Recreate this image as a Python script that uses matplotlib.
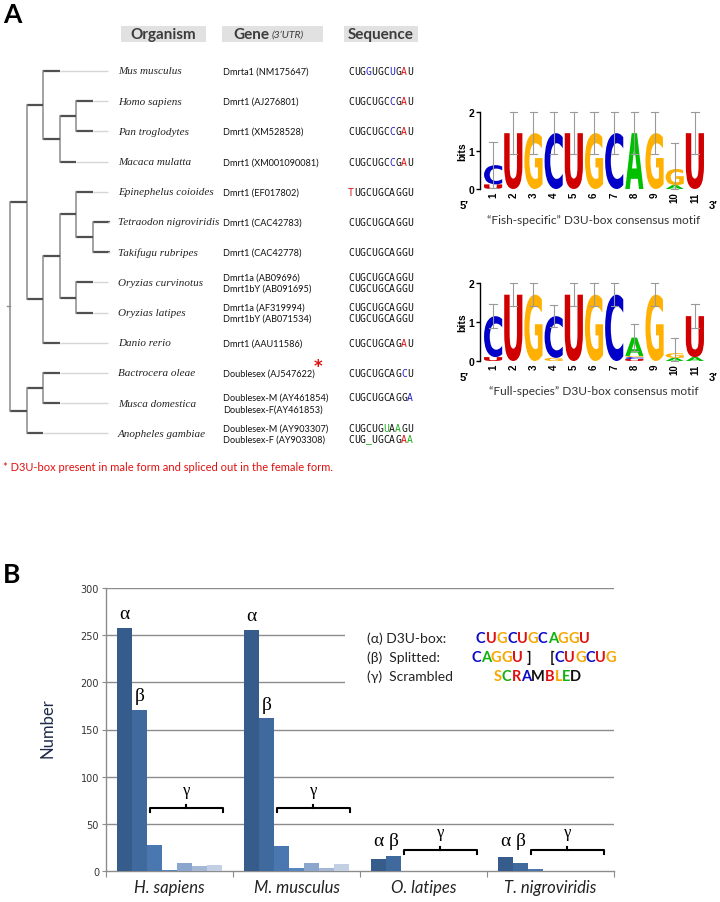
import matplotlib
matplotlib.use('Agg')
import matplotlib.pyplot as plt
from matplotlib.patches import Rectangle, PathPatch
from matplotlib.textpath import TextPath
from matplotlib.font_manager import FontProperties
from matplotlib.transforms import Affine2D

# ---------------- data: panel A ----------------
species = ["Mus musculus", "Homo sapiens", "Pan troglodytes", "Macaca mulatta",
           "Epinephelus coioides", "Tetraodon nigroviridis", "Takifugu rubripes",
           "Oryzias curvinotus", "Oryzias latipes", "Danio rerio",
           "Bactrocera oleae", "Musca domestica", "Anopheles gambiae"]
genes = [["Dmrta1 (NM175647)"], ["Dmrt1 (AJ276801)"], ["Dmrt1 (XM528528)"],
         ["Dmrt1 (XM001090081)"], ["Dmrt1 (EF017802)"], ["Dmrt1 (CAC42783)"],
         ["Dmrt1 (CAC42778)"], ["Dmrt1a (AB09696)", "Dmrt1bY (AB091695)"],
         ["Dmrt1a (AF319994)", "Dmrt1bY (AB071534)"], ["Dmrt1 (AAU11586)"],
         ["Doublesex (AJ547622)"], ["Doublesex-M (AY461854)", "Doublesex-F(AY461853)"],
         ["Doublesex-M (AY903307)", "Doublesex-F (AY903308)"]]
sequences = [["CUGGUGCUGAU"], ["CUGCUGCCGAU"], ["CUGCUGCCGAU"], ["CUGCUGCCGAU"],
             ["TUGCUGCAGGU"], ["CUGCUGCAGGU"], ["CUGCUGCAGGU"],
             ["CUGCUGCAGGU", "CUGCUGCAGGU"], ["CUGCUGCAGGU", "CUGCUGCAGGU"],
             ["CUGCUGCAGAU"], ["CUGCUGCAGCU"], ["CUGCUGCAGGA"],
             ["CUGCUGUAAGU", "CUG_UGCAGAA"]]
seq_marks = [["...b...b.r."], [".......b.r."], [".......b.r."], [".......b.r."],
             ["r.........."], ["..........."], ["..........."],
             ["...........", "..........."], ["...........", "..........."],
             [".........r."], [".........b."], ["..........b"],
             ["......g.g..", "...g.....rg"]]
starred_row = 10
# cladogram (leaf = row index)
tree = (((0, ((1, 2), 3)), (((4, (5, 6)), (7, 8)), 9)), ((10, 11), 12))

# sequence logos: stacks bottom->top (letter, bits); error half-widths
fish_stacks = [[('U', 0.12), ('C', 0.50)], [('U', 1.45)], [('G', 1.45)], [('C', 1.45)],
               [('U', 1.45)], [('G', 1.45)], [('C', 1.45)], [('A', 1.45)],
               [('G', 1.45)], [('A', 0.10), ('G', 0.42)], [('U', 1.45)]]
fish_err = [0.60, 0.55, 0.55, 0.55, 0.55, 0.55, 0.55, 0.55, 0.55, 0.68, 0.55]
full_stacks = [[('U', 0.10), ('C', 1.05)], [('U', 1.70)], [('G', 1.70)],
               [('G', 0.08), ('C', 1.07)], [('U', 1.70)], [('G', 1.70)], [('C', 1.70)],
               [('U', 0.05), ('C', 0.05), ('G', 0.03), ('A', 0.47)], [('G', 1.70)],
               [('A', 0.08), ('G', 0.12)], [('A', 0.10), ('U', 1.05)]]
full_err = [0.30, 0.30, 0.30, 0.28, 0.30, 0.30, 0.30, 0.35, 0.30, 0.40, 0.30]

# ---------------- data: panel B ----------------
categories = ["H. sapiens", "M. musculus", "O. latipes", "T. nigroviridis"]
alpha_vals = [258, 256, 13, 15]
beta_vals = [171, 162, 16, 9]
gamma_vals = [[28, 1, 8, 5, 6], [27, 3, 9, 3, 7], [0, 0, 0, 0.5, 0], [2, 0, 0.5, 0, 0.5]]
yticks = [0, 50, 100, 150, 200, 250, 300]

# ---------------- styles ----------------
W, H = 720, 903
fig = plt.figure(figsize=(W / 100, H / 100), dpi=100)
ov = fig.add_axes([0, 0, 1, 1])
ov.set_xlim(0, W)
ov.set_ylim(H, 0)
ov.axis('off')
ov.set_zorder(5)
ov.patch.set_alpha(0)

SANS = ['Lato', 'DejaVu Sans']
SERIF = ['Liberation Serif', 'DejaVu Serif']
MONO = ['DejaVu Sans Mono']
mark_col = {'.': '#111111', 'b': '#2020d0', 'r': '#e01010', 'g': '#20b020'}
logo_col = {'C': '#0000c8', 'U': '#d00000', 'G': '#ffb000', 'A': '#00c000'}

fig.canvas.draw()
R = fig.canvas.get_renderer()


def text_w(t):
    return t.get_window_extent(renderer=R).width


# panel labels
ov.text(3, 15, 'A', fontsize=19, fontweight='bold', family=SANS, va='center', ha='left')
ov.text(3, 575, 'B', fontsize=19, fontweight='bold', family=SANS, va='center', ha='left')

# headers
hdr_col = '#3c3c3c'
for (x0, x1) in [(121, 206), (222, 323), (344, 418)]:
    ov.add_patch(Rectangle((x0, 27), x1 - x0, 16, fc='#e1e1e1', ec='none'))
ov.text(163.5, 35, 'Organism', fontsize=11, fontweight='bold', family=SANS,
        color=hdr_col, ha='center', va='center')
tg = ov.text(233, 35, 'Gene', fontsize=11, fontweight='bold', family=SANS,
             color=hdr_col, ha='left', va='center')
ov.text(233 + text_w(tg) + 3, 35.5, "(3\u2019UTR)", fontsize=7.5, style='italic',
        family=SANS, color=hdr_col, ha='left', va='center')
ov.text(381, 35, 'Sequence', fontsize=11, fontweight='bold', family=SANS,
        color=hdr_col, ha='center', va='center')

# rows
ROW0, DROW = 72, 30.2


def row_y(i):
    return ROW0 + DROW * i


SEQ_X, SEQ_STEP = 348, 5.9
for i, sp in enumerate(species):
    y = row_y(i)
    ov.text(118, y, sp, fontsize=8.0, style='italic', family=SERIF, color='#222222',
            ha='left', va='center')
    n = len(genes[i])
    offs = [0] if n == 1 else [-5.8, 5.8]
    for g, dy in zip(genes[i], offs):
        tgene = ov.text(223, y + dy, g, fontsize=6.6, family=SANS, color='#111111',
                        ha='left', va='center')
        if i == starred_row:
            ov.text(223 + text_w(tgene) - 1, y - 7, '*', fontsize=12, fontweight='bold',
                    color='#e01010', family=['DejaVu Sans'], ha='left', va='center')
    sq = sequences[i]
    soffs = [offs[0]] if len(sq) == 1 else offs
    for s, m, dy in zip(sq, seq_marks[i], soffs):
        for k, (ch, mk) in enumerate(zip(s, m)):
            ov.text(SEQ_X + k * SEQ_STEP, y + dy, ch, fontsize=7, family=MONO,
                    color=mark_col[mk], ha='left', va='center')

ov.text(3, 468, '* D3U-box present in male form and spliced out in the female form.',
        fontsize=8.0, family=SANS, color='#e01010', ha='left', va='center')

# cladogram
X0, DX, LEAF_END = 10, 16.6, 108
DARK, VERT, LIGHT = '#505050', '#8a8a8a', '#d6d6d6'


def draw_tree(node, depth):
    x = X0 + DX * depth
    ys = []
    for child in node:
        if isinstance(child, int):
            y = row_y(child)
            ov.plot([x, x + DX], [y, y], color=DARK, lw=1.6, solid_capstyle='butt')
            ov.plot([x + DX, LEAF_END], [y, y], color=LIGHT, lw=1.0, solid_capstyle='butt')
        else:
            y = draw_tree(child, depth + 1)
            ov.plot([x, x + DX], [y, y], color=DARK, lw=1.6, solid_capstyle='butt')
        ys.append(y)
    ov.plot([x, x], [min(ys), max(ys)], color=VERT, lw=1.1)
    return (min(ys) + max(ys)) / 2


root_y = draw_tree(tree, 0)
ov.plot([X0 - 3, X0], [root_y, root_y], color=VERT, lw=1.0)

# ---------------- sequence logos ----------------
LOGO_FP = FontProperties(family='DejaVu Sans', weight='bold')


def draw_letter(ax, letter, x, y, w, h, color):
    tp = TextPath((0, 0), letter, size=1, prop=LOGO_FP)
    bb = tp.get_extents()
    tr = Affine2D().translate(-bb.x0, -bb.y0).scale(w / bb.width, h / bb.height).translate(x, y)
    ax.add_patch(PathPatch(tr.transform_path(tp), fc=color, ec='none', lw=0))


def draw_logo(rect, stacks, errs, caption, cap_y):
    ax = fig.add_axes(rect)
    ax.set_xlim(0.35, 11.6)
    ax.set_ylim(0, 2)
    for i, stack in enumerate(stacks):
        xp = i + 1
        y0 = 0
        for letter, h in stack:
            draw_letter(ax, letter, xp - 0.45, y0, 0.9, h, logo_col[letter])
            y0 += h
        lo, hi = max(y0 - errs[i], 0), min(y0 + errs[i], 2.0)
        ax.plot([xp, xp], [lo, hi], color='#9a9a9a', lw=0.8, clip_on=False, zorder=4)
        for yy in (lo, hi):
            ax.plot([xp - 0.18, xp + 0.18], [yy, yy], color='#9a9a9a', lw=0.8,
                    clip_on=False, zorder=4)
        ax.text(xp, -0.06, str(xp), rotation=90, ha='center', va='top', fontsize=7,
                fontweight='bold', family=['Liberation Sans', 'DejaVu Sans'])
    for s in ['top', 'right', 'bottom']:
        ax.spines[s].set_visible(False)
    ax.spines['left'].set_linewidth(1.0)
    ax.set_xticks([])
    ax.set_yticks([0, 1, 2])
    ax.set_yticklabels(['0', '1', '2'], fontsize=7.5, fontweight='bold',
                       family=['Liberation Sans', 'DejaVu Sans'])
    ax.tick_params(axis='y', length=3, width=1, pad=1)
    ax.set_ylabel('bits', fontsize=7.5, fontweight='bold',
                  family=['Liberation Sans', 'DejaVu Sans'], labelpad=1)
    ax.patch.set_alpha(0)
    ax.text(-0.45, -0.42, '5\u2032', fontsize=8, fontweight='bold', ha='center', va='center',
            family=['Liberation Sans', 'DejaVu Sans'])
    ax.text(11.9, -0.42, '3\u2032', fontsize=8, fontweight='bold', ha='center', va='center',
            family=['Liberation Sans', 'DejaVu Sans'])
    ov.text(594, cap_y, caption, fontsize=8.6, family=SANS, color='#333333',
            ha='center', va='center')


draw_logo([480 / W, 1 - 190 / H, 227 / W, 77 / H], fish_stacks, fish_err,
          '\u201cFish-specific\u201d D3U-box consensus motif', 221)
draw_logo([480 / W, 1 - 362 / H, 227 / W, 78 / H], full_stacks, full_err,
          '\u201cFull-species\u201d D3U-box consensus motif', 392)

# ---------------- panel B ----------------
AX_L, AX_R, AX_B, AX_T = 106, 614, 872, 589
axB = fig.add_axes([AX_L / W, 1 - AX_B / H, (AX_R - AX_L) / W, (AX_B - AX_T) / H])
axB.set_xlim(0, 4)
axB.set_ylim(0, 300)
bar_cols = ['#365c8b', '#40699e', '#4a77b0', '#5a86bf', '#8aa6cd', '#a4b7d5', '#c3d0e4']
GAP, BW = 0.087, 0.118
for k in range(len(categories)):
    vals = [alpha_vals[k], beta_vals[k]] + gamma_vals[k]
    for j, v in enumerate(vals):
        axB.bar(k + GAP + j * BW, v, width=BW, align='edge', color=bar_cols[j],
                edgecolor='none', zorder=3)

# gridlines
for t in yticks[1:]:
    axB.axhline(t, color='#8c8c8c', lw=1.0, zorder=1)
# white legend backdrop
axB.add_patch(Rectangle((1.88, 182), 2.12, 80, fc='white', ec='none', zorder=2))

for s in ['top', 'right']:
    axB.spines[s].set_visible(False)
for s in ['left', 'bottom']:
    axB.spines[s].set_color('#8c8c8c')
    axB.spines[s].set_linewidth(1.0)
axB.set_yticks(yticks)
axB.set_yticklabels([str(t) for t in yticks], fontsize=7,
                    family=['Liberation Sans Narrow', 'DejaVu Sans'], color='#333333')
axB.tick_params(axis='y', length=3, color='#8c8c8c', pad=2)
axB.set_xticks(range(5))
axB.set_xticklabels([''] * 5)
axB.tick_params(axis='x', which='major', length=4, color='#8c8c8c')
axB.set_xticks([k + 0.5 for k in range(4)], minor=True)
axB.set_xticklabels(categories, minor=True, fontsize=12, style='italic', family=SANS,
                    color='#222222')
axB.tick_params(axis='x', which='minor', length=0, pad=6)
axB.patch.set_alpha(0)

# greek annotations
bracket_y = [67, 67, 22, 22]
GREEK = ['Liberation Serif', 'DejaVu Serif']
for k in range(4):
    xa = k + GAP + 0.5 * BW
    xb = k + GAP + 1.5 * BW
    ya = max(alpha_vals[k] + 15, 32)
    yb = max(beta_vals[k] + 15, 32)
    axB.text(xa, ya, '\u03b1', fontsize=14, family=GREEK, ha='center', va='center', zorder=6)
    axB.text(xb, yb, '\u03b2', fontsize=14, family=GREEK, ha='center', va='center', zorder=6)
    x0, x1 = k + 0.343, k + 0.92
    xc = (x0 + x1) / 2
    by = bracket_y[k]
    axB.plot([x0, x0, x1, x1], [by - 4, by, by, by - 4], color='black', lw=1.5, zorder=6)
    axB.plot([xc, xc], [by, by + 3], color='black', lw=1.5, zorder=6)
    axB.text(xc, by + 19, '\u03b3', fontsize=12, family=GREEK, ha='center', va='center',
             zorder=6)

ov.text(48, 728, 'Number', fontsize=12, family=SANS, color='#1d2a48', rotation=90,
        ha='center', va='center')

# legend with coloured strings
LEG_X = 367
leg_rows = [(639, '(\u03b1) D3U-box:'), (658, '(\u03b2)  Splitted:'), (677, '(\u03b3)  Scrambled')]
for y, lab in leg_rows:
    ov.text(LEG_X, y, lab, fontsize=10, family=SANS, color='#222222', ha='left', va='center')

LC = {'C': '#0a0ac8', 'U': '#e01010', 'G': '#f5a800', 'A': '#10b010', 'k': '#111111'}


def colored(x, y, s, cols):
    for ch, c in zip(s, cols):
        t = ov.text(x, y, ch, fontsize=10.5, fontweight='bold', family=SANS,
                    color=LC.get(c, c), ha='left', va='center')
        x += text_w(t)
    return x


colored(476, 639, "CUGCUGCAGGU", "CUGCUGCAGGU")
colored(471, 658, "CAGGU ]", "CAGGUkk")
colored(550, 658, "[CUGCUG", "kCUGCUG")
colored(494, 677, "SCRAMBLED",
        ['#f5a800', '#10b010', '#e01010', '#0a0ac8', '#111111', '#e01010', '#f5a800',
         '#10b010', '#111111'])

fig.savefig('out.png', dpi=100)
